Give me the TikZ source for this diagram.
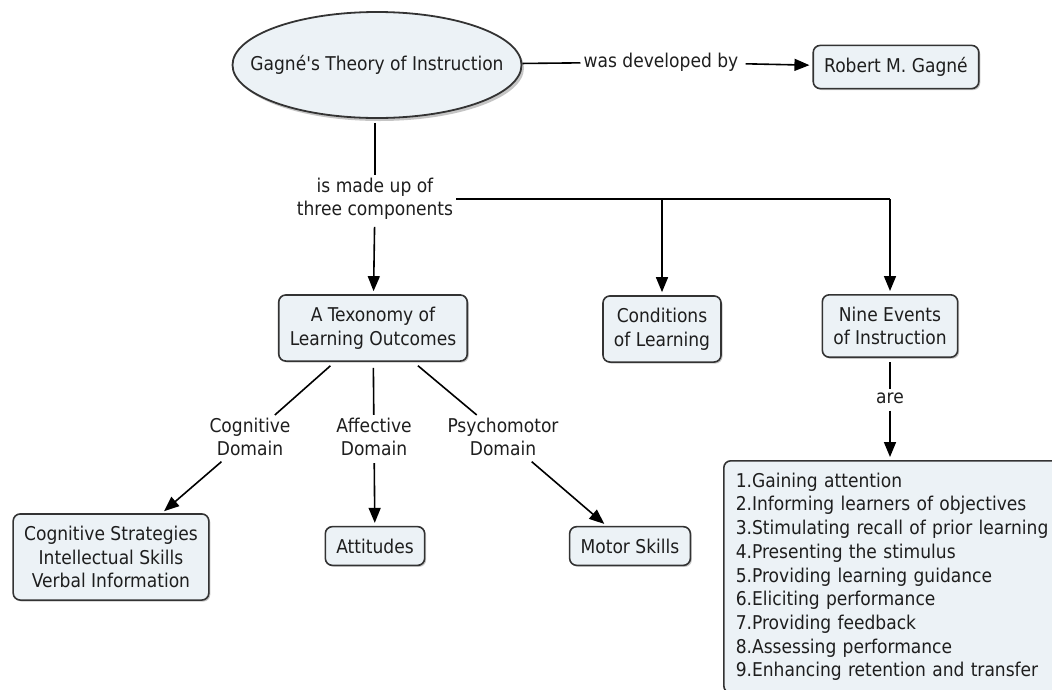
\documentclass[tikz,border=0pt]{standalone}
\usepackage{fontspec}
\setmainfont[Ligatures=TeXOff]{DejaVu Sans Condensed}
\usetikzlibrary{shapes.geometric,shadows,arrows.meta}

\definecolor{boxfill}{HTML}{ECF2F6}
\definecolor{boxline}{HTML}{333333}
\definecolor{shade}{HTML}{8C8C8C}
\definecolor{ink}{HTML}{1E1E1E}

\begin{document}
\begin{tikzpicture}[x=1pt,y=-1pt,
  concept/.style={draw=boxline, line width=1.6pt, fill=boxfill, rounded corners=7pt,
    align=center, inner xsep=11pt, inner ysep=12pt, text=ink,
    font=\fontsize{19}{23.7}\selectfont,
    drop shadow={shadow xshift=1.5pt, shadow yshift=-1.5pt, fill=shade}},
  linkword/.style={align=center, inner sep=3pt, text=ink, font=\fontsize{19}{23}\selectfont},
  link/.style={line width=1.6pt, shorten <=4pt},
  linkto/.style={link, -{Triangle[length=15pt,width=12pt]}, shorten >=3pt}]

  % Fix the size of the page
  \useasboundingbox (0,0) rectangle (1052,689);

  % Main concept
  \node[draw=boxline, line width=1.8pt, fill=boxfill, ellipse, minimum width=289pt,
    minimum height=106pt, inner sep=0pt,
    drop shadow={shadow xshift=2.5pt, shadow yshift=-3pt, fill=shade},
    label={[text=ink, font=\fontsize{19}{23}\selectfont]center:Gagné's Theory of Instruction}]
    (theory) at (377,65) {};

  % Concepts
  \node[concept] (gagne) at (896,67) {Robert M. Gagné};
  \node[concept] (texo) at (373,328) {A Texonomy of\\Learning Outcomes};
  \node[concept] (cond) at (662,329) {Conditions\\of Learning};
  \node[concept] (nine) at (890,326) {Nine Events\\of Instruction};
  \node[concept] (cogs) at (111,557) {Cognitive Strategies\\Intellectual Skills\\Verbal Information};
  \node[concept] (att) at (375,546) {Attitudes};
  \node[concept] (motor) at (630,546) {Motor Skills};
  \node[concept, anchor=north west, align=left, text width=370pt, minimum height=228pt,
    inner xsep=12pt] (events) at (723,460)
    {1.Gaining attention\\
     2.Informing learners of objectives\\
     3.Stimulating recall of prior learning\\
     4.Presenting the stimulus\\
     5.Providing learning guidance\\
     6.Eliciting performance\\
     7.Providing feedback\\
     8.Assessing performance\\
     9.Enhancing retention and transfer};

  % Linking words
  \node[linkword] (devby) at (661,62) {was developed by};
  \node[linkword] (made) at (375,199) {is made up of\\three components};
  \node[linkword] (are) at (890,398) {are};
  \node[linkword] (cogl) at (250,437) {Cognitive\\Domain};
  \node[linkword] (affl) at (374,437) {Affective\\Domain};
  \node[linkword] (psyl) at (503,437) {Psychomotor\\Domain};

  % Connectors
  \draw[link, shorten <=0pt] (theory) -- (devby);
  \draw[linkto] (devby) -- (gagne);
  \draw[link] (theory.south -| made.north) -- (made);
  \draw[linkto] (made) -- (texo);
  \draw[line width=1.6pt] (made.east) -- (made.east -| nine);
  \draw[linkto, shorten <=0pt] (made.east -| cond) -- (cond);
  \draw[linkto, shorten <=0pt] (made.east -| nine) -- (nine);
  \draw[link] (nine) -- (are);
  \draw[linkto] (are) -- (events.north -| are);

  % Three domains
  \foreach \dom/\res in {cogl/cogs, affl/att, psyl/motor} {
    \draw[link, shorten <=6pt] (texo) -- (\dom);
    \draw[linkto] (\dom) -- (\res);
  }

\end{tikzpicture}
\end{document}
